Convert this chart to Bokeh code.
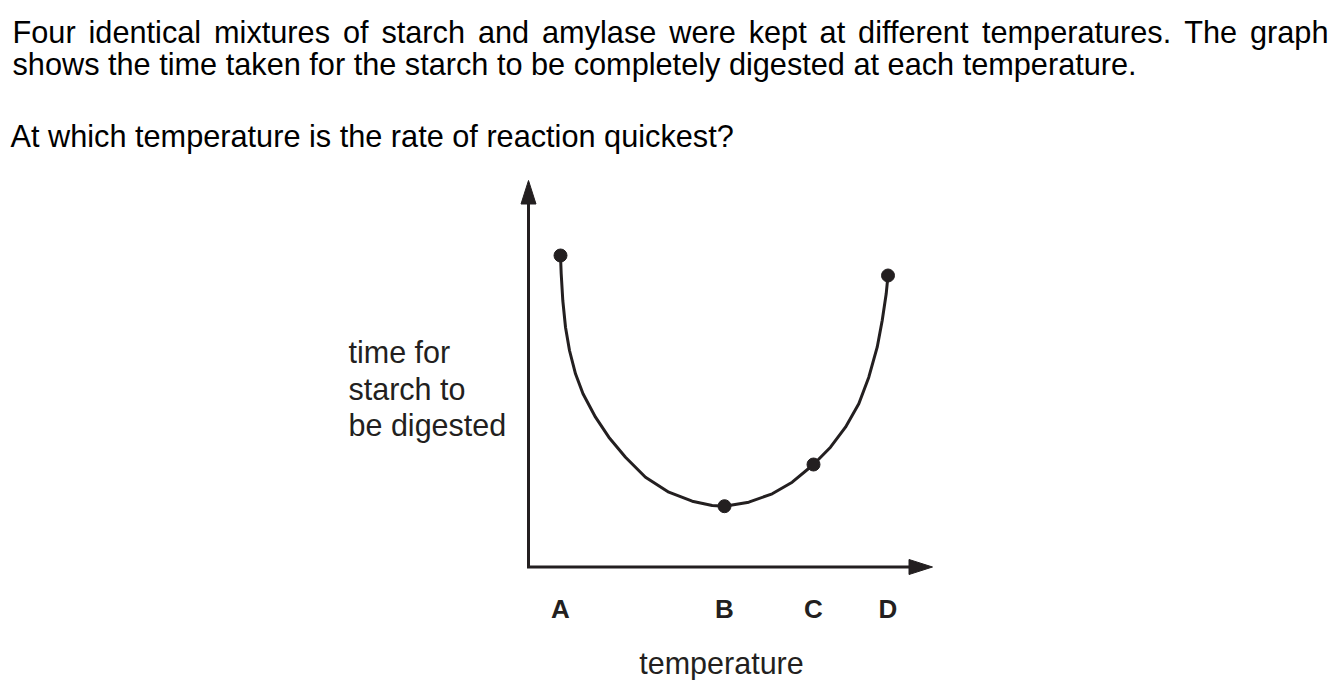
from bokeh.plotting import figure
from bokeh.models import Range1d
from bokeh.core.properties import value
from bokeh.embed import file_html
from bokeh.resources import INLINE

# ---------------- data (arbitrary units) ----------------
point_labels = ["A", "B", "C", "D"]
temperature = [3.2, 19.6, 28.5, 35.95]
time_taken = [31.15, 6.08, 10.25, 29.15]

curve_temperature = [3.2, 3.27, 3.43, 3.7, 4.1, 4.7, 5.45, 6.7, 8.03, 9.7, 11.7, 14.03,
                     16.37, 18.37, 19.6, 22.03, 24.37, 26.37, 28.5, 30.2, 31.7, 33.03,
                     34.03, 34.87, 35.37, 35.77, 35.95]
curve_time = [31.15, 29.32, 26.65, 23.98, 21.65, 19.32, 17.32, 14.98, 12.98, 10.98, 8.98,
              7.48, 6.58, 6.15, 6.08, 6.48, 7.32, 8.48, 10.25, 11.98, 13.98, 16.32,
              18.98, 21.98, 24.65, 27.32, 29.15]

question_line1 = ("Four identical mixtures of starch and amylase were kept at different "
                  "temperatures. The graph")
question_line2 = "shows the time taken for the starch to be completely digested at each temperature."
question_line3 = "At which temperature is the rate of reaction quickest?"
y_label_lines = ["time for", "starch to", "be digested"]
x_label = "temperature"

# ---------------- layout ----------------
W, H = 1338, 680
PAGE = 0
OX, OY = 528.0, 566.5          # axis origin in page pixels
S = 10.0                        # pixels per unit


def dx(px):
    return (px - OX) / S


def dy(py):
    return (OY - py) / S


INK = "#231f20"
FONT = value("Liberation Sans")
FS = 30.7

p = figure(width=W, height=H, output_backend="svg", toolbar_location=None,
           x_range=Range1d(dx(PAGE), dx(PAGE + W)), y_range=Range1d(dy(PAGE + H), dy(PAGE)),
           x_axis_location=None, y_axis_location=None, min_border=0,
           outline_line_color=None, background_fill_color="white",
           border_fill_color="white")
p.xgrid.visible = False
p.ygrid.visible = False

# ---------------- question text ----------------
ARIAL = {' ': 278, '.': 278, '?': 556, 'A': 667, 'F': 611, 'T': 611,
         'a': 556, 'b': 556, 'c': 500, 'd': 556, 'e': 556, 'f': 278, 'g': 556, 'h': 556,
         'i': 222, 'j': 222, 'k': 500, 'l': 222, 'm': 833, 'n': 556, 'o': 556, 'p': 556,
         'q': 556, 'r': 333, 's': 500, 't': 278, 'u': 556, 'v': 500, 'w': 722, 'x': 500,
         'y': 500, 'z': 500}


def text_width(s, size):
    return sum(ARIAL.get(ch, 556) for ch in s) * size / 1000.0


words = question_line1.split(" ")
left, right = 12.0, 1328.0
widths = [text_width(w, FS) for w in words]
gap = (right - left - sum(widths)) / (len(words) - 1)
wx, cur = [], left
for w_ in widths:
    wx.append(cur)
    cur += w_ + gap

p.text(x=[dx(v) for v in wx], y=[dy(32)] * len(words), text=words,
       text_font=FONT, text_font_size=value(f"{FS}px"), text_color="black",
       text_align="left", text_baseline="alphabetic")
p.text(x=[dx(12), dx(10)], y=[dy(64), dy(135.5)], text=[question_line2, question_line3],
       text_font=FONT, text_font_size=value(f"{FS}px"), text_color="black",
       text_align="left", text_baseline="alphabetic")

# ---------------- axes with arrow heads ----------------
p.line(x=[0, 0, dx(909)], y=[dy(203), 0, 0], line_width=3, line_color=INK,
       line_join="miter", line_cap="butt")
p.patch(x=[-0.75, 0, 0.75], y=[dy(203.5), dy(180), dy(203.5)], fill_color=INK, line_color=INK,
        line_width=1)
p.patch(x=[dx(908.5), dx(932), dx(908.5)], y=[0.75, 0, -0.75], fill_color=INK, line_color=INK,
        line_width=1)

# ---------------- curve and points ----------------
p.line(curve_temperature, curve_time, line_width=3, line_color=INK, line_join="round")
p.scatter(temperature, time_taken, size=13, fill_color=INK, line_color=INK)

# ---------------- axis labels ----------------
p.text(x=temperature, y=[dy(608.5)] * len(point_labels), text=point_labels,
       text_font=FONT, text_font_size=value("26px"), text_font_style="bold",
       text_color=INK, text_align="center", text_baseline="alphabetic")
p.text(x=[dx(721)], y=[dy(662)], text=[x_label], text_font=FONT,
       text_font_size=value("30.5px"), text_color=INK, text_align="center",
       text_baseline="alphabetic")
p.text(x=[dx(348)] * 3, y=[dy(351.5), dy(388), dy(424.5)], text=y_label_lines,
       text_font=FONT, text_font_size=value("30.5px"), text_color=INK,
       text_align="left", text_baseline="alphabetic")

open("out.html", "w").write(file_html(p, INLINE))
